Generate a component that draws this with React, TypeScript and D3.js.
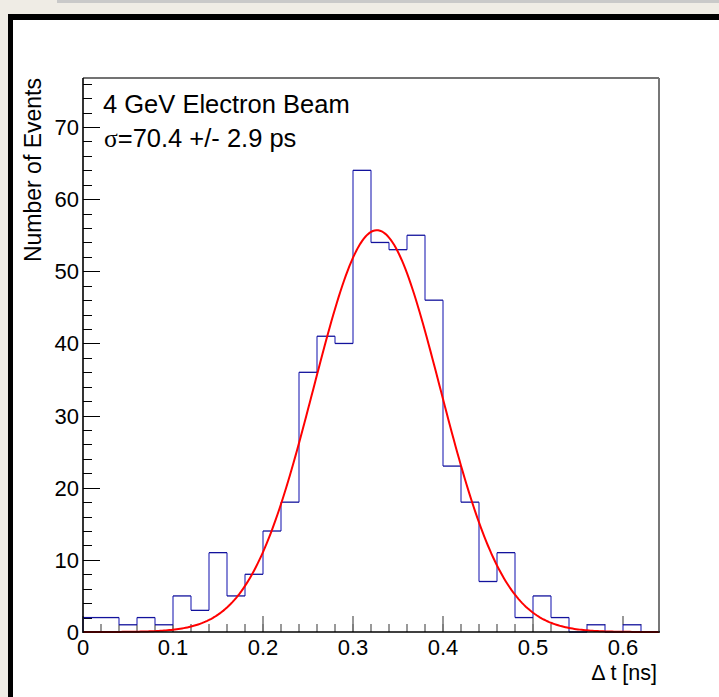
import React from "react";
import * as d3 from "d3";

const binEdgesStart = 0;
const binWidth = 0.02;
const counts = [2, 2, 1, 2, 1, 5, 3, 11, 5, 8, 14, 18, 36, 41, 40, 64, 54, 53, 55, 46, 23, 18, 7, 11, 2, 5, 2, 0, 1, 0, 1, 0];
const xTickLabels = ["0", "0.1", "0.2", "0.3", "0.4", "0.5", "0.6"];
const yTickLabels = ["0", "10", "20", "30", "40", "50", "60", "70"];
const fitConstant = 55.7;
const fitMean = 0.3265;
const fitSigma = 0.0704;
const legendLines = ["4 GeV Electron Beam", "=70.4 +/- 2.9 ps"];

const W = 719, H = 697;
const L = 83, R = 659, T = 78, B = 632;

export default function App() {
  const x = d3.scaleLinear().domain([0, 0.64]).range([L, R]);
  const y = d3.scaleLinear().domain([0, 76.8]).range([B, T]);

  const horiz: JSX.Element[] = [];
  const vert: JSX.Element[] = [];
  counts.forEach((c, i) => {
    const x0 = x(binEdgesStart + i * binWidth);
    const x1 = x(binEdgesStart + (i + 1) * binWidth);
    horiz.push(<line key={"h" + i} x1={x0} x2={x1} y1={y(c)} y2={y(c)} />);
    const prev = i === 0 ? 0 : counts[i - 1];
    if (prev !== c) vert.push(<line key={"v" + i} x1={x0} x2={x0} y1={y(prev)} y2={y(c)} />);
  });

  const curvePts = d3.range(0, 0.6401, 0.002).map((t) => [t, fitConstant * Math.exp(-0.5 * ((t - fitMean) / fitSigma) ** 2)] as [number, number]);
  const curve = d3.line<[number, number]>().x((d) => x(d[0])).y((d) => y(d[1]))(curvePts) || "";

  const xMinor = d3.range(0, 0.6401, 0.02);
  const xMajor = xTickLabels.map((s) => +s);
  const yMinor = d3.range(0, 77, 2);
  const yMajor = yTickLabels.map((s) => +s);

  const font = "'Liberation Sans', Arial, Helvetica, sans-serif";

  return (
    <svg width={W} height={H} style={{ position: "absolute", left: 0, top: 0 }} fontFamily={font}>
      <rect x={0} y={0} width={W} height={H} fill="#efece5" />
      <rect x={57} y={0} width={W - 57} height={3} fill="#c9c9c9" />
      <rect x={8} y={14} width={W - 8} height={H - 14} fill="#000" />
      <rect x={13} y={20} width={W - 13} height={H - 20} fill="#fff" />

      {/* x ticks */}
      <g stroke="#777" strokeWidth={1.5}>
        {xMinor.map((t, i) => (
          <line key={"xm" + i} x1={x(t)} x2={x(t)} y1={B} y2={B - 8} />
        ))}
        {xMajor.map((t, i) => (
          <line key={"xM" + i} x1={x(t)} x2={x(t)} y1={B} y2={B - 16} />
        ))}
      </g>
      {/* y ticks */}
      <g stroke="#000" strokeWidth={1}>
        {yMinor.map((t, i) => (
          <line key={"ym" + i} x1={L} x2={L + 9} y1={Math.round(y(t)) + 0.5} y2={Math.round(y(t)) + 0.5} />
        ))}
        {yMajor.map((t, i) => (
          <line key={"yM" + i} x1={L} x2={L + 17} y1={Math.round(y(t)) + 0.5} y2={Math.round(y(t)) + 0.5} />
        ))}
      </g>

      {/* histogram */}
      <g stroke="#8686d6" strokeWidth={2}>{vert}</g>
      <g stroke="#12129c" strokeWidth={1.3}>{horiz}</g>

      {/* fit */}
      <path d={curve} fill="none" stroke="#ff0000" strokeWidth={2} />

      {/* frame */}
      <line x1={L} x2={R} y1={T} y2={T} stroke="#444" strokeWidth={1.3} />
      <line x1={R} x2={R} y1={T} y2={B} stroke="#777" strokeWidth={2} />
      <line x1={L} x2={L} y1={T} y2={B + 1} stroke="#000" strokeWidth={1.6} />
      <line x1={L} x2={R + 1} y1={B} y2={B} stroke="#000" strokeWidth={1.6} />

      {/* tick labels */}
      <g fontSize={22} fill="#000">
        {yTickLabels.map((s, i) => (
          <text key={"yl" + i} x={79} y={y(+s) + 8} textAnchor="end">{s}</text>
        ))}
        {xTickLabels.map((s, i) => (
          <text key={"xl" + i} x={x(+s)} y={655} textAnchor="middle">{s}</text>
        ))}
      </g>

      {/* axis titles */}
      <text x={657} y={680} fontSize={21.5} textAnchor="end">Δ t [ns]</text>
      <text transform="translate(41,78) rotate(-90)" fontSize={23} textAnchor="end">Number of Events</text>

      {/* legend */}
      <text x={103} y={113} fontSize={25.5}>{legendLines[0]}</text>
      <text x={104} y={147} fontSize={25.5}>
        <tspan fontFamily="'Liberation Serif', 'DejaVu Serif', serif">σ</tspan>
        {legendLines[1]}
      </text>
    </svg>
  );
}
